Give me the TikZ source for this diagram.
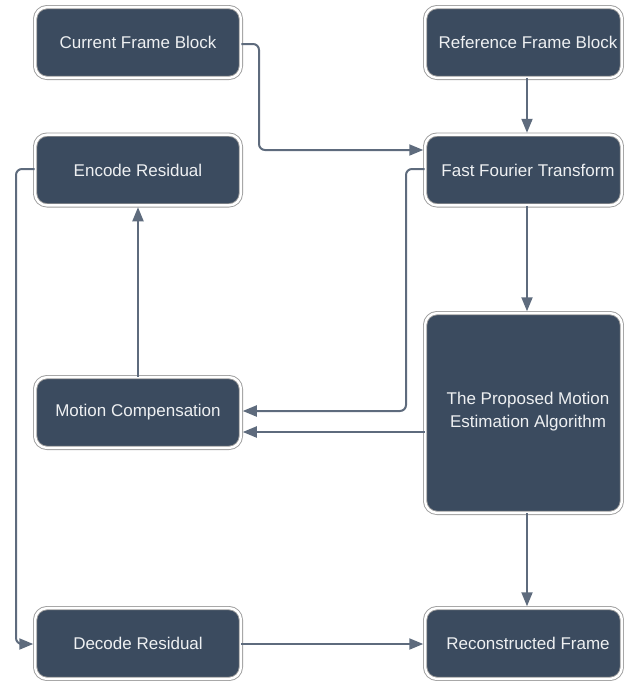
\documentclass[tikz,border=0pt]{standalone}
\usepackage{fontspec}
\setmainfont{Liberation Sans}
\usetikzlibrary{arrows.meta}
\definecolor{boxfill}{HTML}{3B4B5F}
\definecolor{linec}{HTML}{5E6B7D}
\definecolor{rimc}{HTML}{9C9C9C}
\definecolor{txtc}{HTML}{EEF0F2}
\begin{document}
\begin{tikzpicture}[x=1pt,y=-1pt,
  box/.style={draw=rimc, line width=0.9pt, double=white, double distance=2.4pt,
    fill=boxfill, rounded corners=12pt, inner sep=0pt, minimum height=70.8pt},
  lbox/.style={box, minimum width=205.8pt},
  rbox/.style={box, minimum width=196.8pt},
  lbl/.style={text=txtc, font=\fontsize{17}{23}\selectfont, align=center, inner sep=0pt},
  conn/.style={draw=linec, line width=2pt, rounded corners=6pt, shorten >=1.4pt,
    -{Triangle[length=14pt,width=11pt]}}]
\useasboundingbox (0,0) rectangle (624,681);
% boxes
\node[lbox] (cur) at (138,42.5) {};
\node[rbox] (ref) at (523.5,42.5) {};
\node[lbox] (enc) at (138,170) {};
\node[rbox] (fft) at (523.5,170) {};
\node[lbox] (mc) at (138,412.5) {};
\node[rbox, minimum height=199.8pt] (pme) at (523.5,413) {};
\node[lbox] (dec) at (138,643.5) {};
\node[rbox] (rec) at (523.5,643.5) {};
% labels
\node[lbl] (tcur) at (cur.center) {Current Frame Block};
\node[lbl] (tref) at (528,42.5) {Reference Frame Block};
\node[lbl] (tenc) at (enc.center) {Encode Residual};
\node[lbl] (tfft) at (528,170) {Fast Fourier Transform};
\node[lbl] (tmc) at (mc.center) {Motion Compensation};
\node[lbl] (tpme) at (528,412) {The Proposed Motion\\Estimation Algorithm};
\node[lbl] (tdec) at (dec.center) {Decode Residual};
\node[lbl] (trec) at (528,643.5) {Reconstructed Frame};
% connectors
\draw[conn] ([yshift=-1.5pt]cur.east) -| (259,150) -- (fft.west |- 0,150);
\draw[conn] (ref.south -| 527,0) -- (fft.north -| 527,0);
\draw[conn] (fft.south -| 527,0) -- (pme.north -| 527,0);
\draw[conn] (fft.west |- 0,169) -| (406,411) -- (mc.east |- 0,411);
\draw[conn] (pme.west |- 0,432) -- (mc.east |- 0,432);
\draw[conn] (mc.north) -- (enc.south);
\draw[conn] (enc.west |- 0,169) -| (16,644) -- (dec.west |- 0,644);
\draw[conn] (dec.east |- 0,644) -- (rec.west |- 0,644);
\draw[conn] (pme.south -| 527,0) -- (rec.north -| 527,0);
\end{tikzpicture}
\end{document}
